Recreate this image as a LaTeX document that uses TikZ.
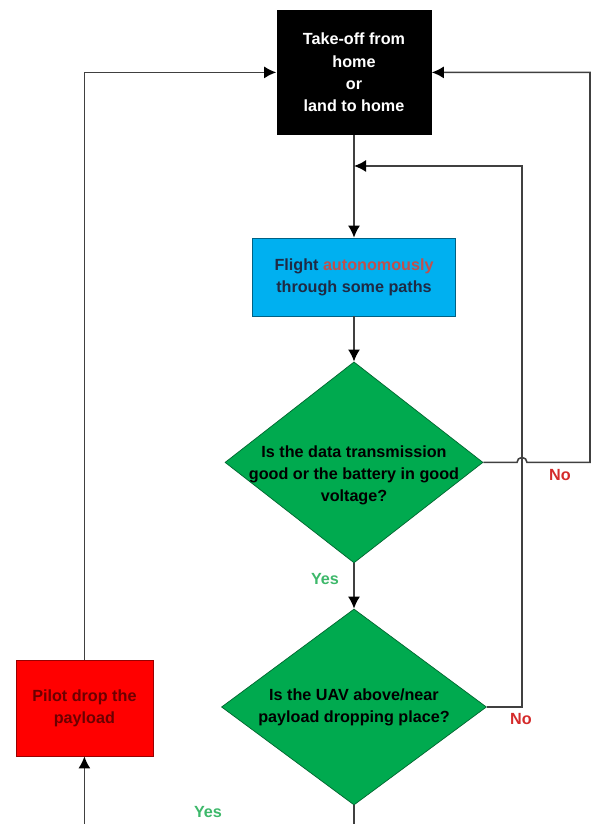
\documentclass[tikz,border=0pt]{standalone}
\usepackage{fontspec}
\setmainfont{Liberation Sans}
\usetikzlibrary{shapes.geometric,arrows.meta}
\definecolor{linegray}{HTML}{404040}
\definecolor{skyblue}{HTML}{00B0F0}
\definecolor{navytext}{HTML}{1F2A44}
\definecolor{rusttext}{HTML}{C0504D}
\definecolor{leafgreen}{HTML}{00AA4F}
\definecolor{maroontext}{HTML}{6B0000}
\definecolor{yesgreen}{HTML}{3DB86A}
\definecolor{nored}{HTML}{D42A2A}

\begin{document}
\begin{tikzpicture}[font=\fontsize{11.5}{15.8}\selectfont\bfseries,
		wire/.style={draw=linegray, line width=1.1pt},
		arr/.style={-{Latex[length=3mm,width=3mm,color=black]}},
		question/.style={shape=diamond, fill=leafgreen, draw=leafgreen!60!black, line width=0.5pt, inner sep=0pt},
		answer/.style={anchor=center, font=\fontsize{11.5}{13}\selectfont\bfseries}]
			\useasboundingbox (0, 0) rectangle (14.85, 20.6);
			\node[shape=rectangle, fill=black, minimum width=3.875cm, minimum height=3.125cm](home) at (8.85, 18.79){} node[anchor=center, align=center, text=white] at (home.text){Take-off from\\home\\or\\land to home};
			\node[shape=rectangle, fill=skyblue, draw=skyblue!55!black, line width=0.5pt, minimum width=5.075cm, minimum height=1.95cm](fly) at (8.85, 13.675){} node[anchor=center, align=center, text=navytext] at (fly.text){Flight \textcolor{rusttext}{autonomously}\\through some paths};
			\node[question, minimum width=6.45cm, minimum height=5.025cm](link) at (8.85, 9.04){} node[anchor=center, align=center] at ([yshift=-0.32cm]link.text){Is the data transmission\\good or the battery in good\\voltage?};
			\node[question, minimum width=6.625cm, minimum height=4.9cm](drop) at (8.85, 2.925){} node[anchor=center, align=center] at (drop.text){Is the UAV above/near\\payload dropping place?};
			\node[shape=rectangle, fill=red, draw=red!60!black, line width=0.5pt, minimum width=3.425cm, minimum height=2.4cm](pilot) at (2.11, 2.9){} node[anchor=center, align=center, text=maroontext] at (pilot.text){Pilot drop the\\payload};
			\coordinate (merge) at (8.85, 16.45);
			\coordinate (loopR) at (13.05, 16.45);
			\coordinate (exit) at (8.85, 0);
			\coordinate (below) at (2.11, 0);
			\draw[wire, arr] (home.south) -- (fly.north);
			\draw[wire, arr] (fly.south) -- (link.north);
			\draw[wire, arr] (link.south) -- (drop.north);
			\draw[wire] (drop.south) -- (exit);
			\draw[wire, arr] (link.east) -- (12.925, 9.04) arc[start angle=180, end angle=0, radius=0.125] -- (14.75, 9.04) |- (home.east);
			\draw[wire, arr] (drop.east) -| (loopR) -- (merge);
			\draw[wire, arr] (pilot.north) |- (home.west);
			\draw[wire, arr] (below) -- (pilot.south);
			\node[answer, text=nored](no1) at (14.0, 8.725){No};
			\node[answer, text=yesgreen](yes1) at (8.125, 6.125){Yes};
			\node[answer, text=nored](no2) at (13.025, 2.625){No};
			\node[answer, text=yesgreen](yes2) at (5.2, 0.3){Yes};
		\end{tikzpicture}
\end{document}
